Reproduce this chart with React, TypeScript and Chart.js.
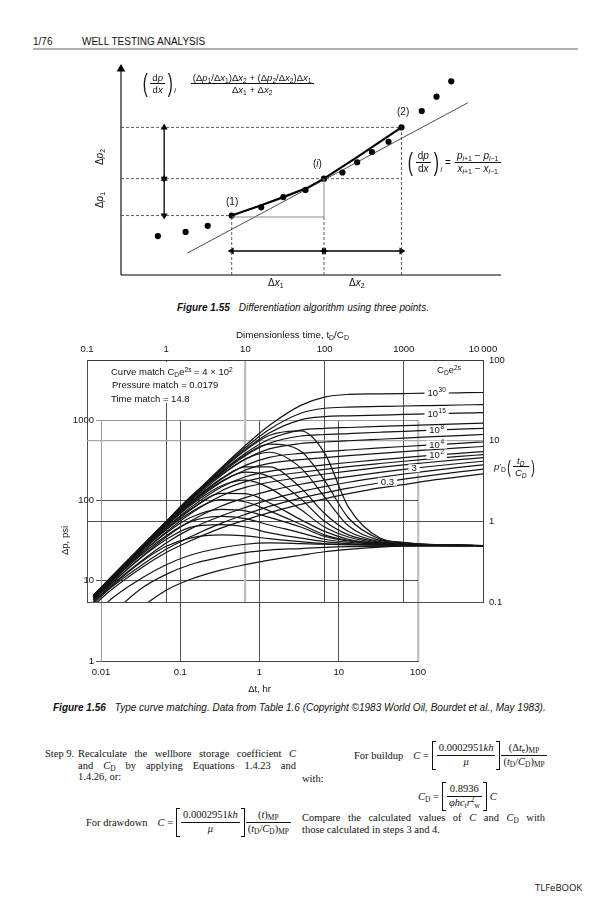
import React, { useEffect, useRef } from 'react';
import { Chart, registerables } from 'chart.js';

Chart.register(...registerables);

const SANS = '"Liberation Sans", Arial, Helvetica, sans-serif';
const SERIF = '"Liberation Serif", "Times New Roman", Times, serif';

/* ---------- Figure 1.55 (schematic, arbitrary units 0-100) ---------- */
const DOT_X = [10, 17.5, 23.5, 30, 38, 44, 50, 55, 60, 64, 68, 72.5, 76, 81.5, 85.5, 89.5];
const DOT_Y = [19, 21, 24, 29, 33, 38, 41.5, 47, 50, 55, 60, 65, 72, 80, 87, 94.5];
const CHORD_X = [30, 38, 44, 50.5, 55, 64, 76];
const CHORD_Y = [29, 34, 38, 42.5, 47, 57.5, 72];
const TREND_X = [18, 94];
const TREND_Y = [10.7, 84];
const KEY_X = [30, 55, 76]; // points (1), (i), (2)
const KEY_Y = [29, 47, 72];
const ARROW_ROW_Y = 11.7;
const ARROW_COL_X = 11.7;
const AXIS_X_END = 103;
const AXIS_Y_END = 100.5;

/* ---------- Figure 1.56 type curves ---------- */
const TIMES = [0.12, 0.2, 0.5, 1, 2, 5, 10, 20, 50, 100, 200, 500, 1000, 2000, 5000, 10000];
const TOP_TICKS = [0.1, 1, 10, 100, 1000, 10000];
const TOP_TICK_LABELS = ['0.1', '1', '10', '100', '1000', '10\u2009000'];
const RIGHT_TICKS = [0.1, 1, 10, 100];
const RIGHT_TICK_LABELS = ['0.1', '1', '10', '100'];
const DT_TICKS = [0.01, 0.1, 1, 10, 100];
const DT_TICK_LABELS = ['0.01', '0.1', '1', '10', '100'];
const DP_TICKS = [1, 10, 100, 1000];
const DP_TICK_LABELS = ['1', '10', '100', '1000'];

// pressure curves pD, CDe2s = 1e30 ... 0.1
const PD_1E30 = [0.12, 0.2, 0.496, 0.986, 1.945, 4.67, 8.73, 15.4, 27.4, 34.7, 37.4, 38.05, 38.4, 38.75, 39.2, 39.55];
const PD_1E20 = [0.12, 0.2, 0.495, 0.979, 1.919, 4.51, 8.21, 13.76, 21.85, 25.21, 26.08, 26.54, 26.89, 27.23, 27.69, 28.04];
const PD_1E15 = [0.12, 0.2, 0.494, 0.972, 1.893, 4.38, 7.76, 12.42, 18.09, 19.85, 20.33, 20.78, 21.13, 21.48, 21.94, 22.28];
const PD_1E10 = [0.12, 0.2, 0.489, 0.959, 1.845, 4.14, 6.99, 10.4, 13.5, 14.21, 14.57, 15.03, 15.37, 15.72, 16.18, 16.53];
const PD_1E8 = [0.12, 0.2, 0.487, 0.95, 1.81, 3.97, 6.52, 9.28, 11.42, 11.92, 12.26, 12.72, 13.07, 13.41, 13.87, 14.22];
const PD_1E6 = [0.119, 0.197, 0.482, 0.935, 1.76, 3.73, 5.87, 7.9, 9.23, 9.62, 9.97, 10.42, 10.77, 11.12, 11.58, 11.92];
const PD_1E4 = [0.118, 0.195, 0.474, 0.907, 1.67, 3.35, 4.94, 6.21, 6.96, 7.32, 7.66, 8.12, 8.47, 8.81, 9.27, 9.62];
const PD_1E3 = [0.117, 0.194, 0.466, 0.88, 1.59, 3.07, 4.33, 5.23, 5.81, 6.16, 6.51, 6.97, 7.32, 7.66, 8.12, 8.47];
const PD_1E2 = [0.116, 0.19, 0.45, 0.836, 1.468, 2.67, 3.57, 4.17, 4.66, 5.01, 5.36, 5.82, 6.16, 6.51, 6.97, 7.31];
const PD_30 = [0.113, 0.185, 0.435, 0.796, 1.367, 2.39, 3.1, 3.59, 4.06, 4.41, 4.76, 5.21, 5.56, 5.91, 6.37, 6.71];
const PD_10 = [0.107, 0.176, 0.409, 0.737, 1.237, 2.08, 2.64, 3.05, 3.51, 3.86, 4.2, 4.66, 5.01, 5.36, 5.82, 6.16];
const PD_3 = [0.105, 0.168, 0.37, 0.64, 1.0, 1.55, 1.97, 2.38, 2.88, 3.24, 3.59, 4.05, 4.4, 4.75, 5.21, 5.56];
const PD_1 = [0.1, 0.16, 0.33, 0.54, 0.8, 1.17, 1.49, 1.86, 2.34, 2.7, 3.05, 3.51, 3.86, 4.2, 4.66, 5.01];
const PD_03 = [0.095, 0.15, 0.29, 0.45, 0.64, 0.95, 1.22, 1.53, 1.94, 2.25, 2.58, 3.0, 3.33, 3.66, 4.1, 4.43];
const PD_01 = [0.09, 0.14, 0.27, 0.41, 0.57, 0.83, 1.04, 1.28, 1.62, 1.9, 2.2, 2.6, 2.85, 3.18, 3.55, 3.88];

// derivative curves pD'(tD/CD)
const DER_1E30 = [0.12, 0.2, 0.5, 1.0, 1.99, 4.35, 7.6, 11.6, 13.2, 7.0, 1.5, 0.62, 0.55, 0.52, 0.51, 0.5];
const DER_1E20 = [0.12, 0.2, 0.5, 0.99, 1.98, 4.08, 6.7, 9.06, 7.4, 3.2, 1.1, 0.6, 0.54, 0.52, 0.51, 0.5];
const DER_1E15 = [0.12, 0.2, 0.5, 0.99, 1.96, 3.83, 5.93, 7.18, 4.6, 2.0, 0.88, 0.58, 0.53, 0.51, 0.505, 0.5];
const DER_1E10 = [0.12, 0.2, 0.49, 0.92, 1.7, 3.41, 4.74, 4.73, 2.6, 1.25, 0.75, 0.56, 0.52, 0.51, 0.505, 0.5];
const DER_1E8 = [0.12, 0.2, 0.49, 0.904, 1.645, 3.14, 4.07, 3.6, 1.9, 1.0, 0.68, 0.55, 0.52, 0.51, 0.505, 0.5];
const DER_1E6 = [0.119, 0.197, 0.467, 0.876, 1.555, 2.76, 3.24, 2.6, 1.4, 0.85, 0.64, 0.54, 0.52, 0.51, 0.505, 0.5];
const DER_1E4 = [0.117, 0.191, 0.452, 0.828, 1.4, 2.22, 2.21, 1.7, 1.05, 0.75, 0.6, 0.53, 0.515, 0.505, 0.5, 0.5];
const DER_1E3 = [0.115, 0.188, 0.438, 0.786, 1.28, 1.86, 1.75, 1.35, 0.92, 0.68, 0.58, 0.53, 0.51, 0.505, 0.5, 0.5];
const DER_1E2 = [0.113, 0.183, 0.414, 0.718, 1.11, 1.41, 1.35, 1.12, 0.85, 0.65, 0.57, 0.52, 0.51, 0.505, 0.5, 0.5];
const DER_30 = [0.11, 0.177, 0.393, 0.663, 0.983, 1.15, 1.08, 0.9, 0.72, 0.6, 0.55, 0.52, 0.51, 0.5, 0.5, 0.5];
const DER_10 = [0.107, 0.168, 0.363, 0.594, 0.84, 0.91, 0.85, 0.72, 0.62, 0.56, 0.53, 0.51, 0.5, 0.5, 0.5, 0.5];
const DER_3 = [0.1, 0.155, 0.32, 0.49, 0.62, 0.68, 0.66, 0.61, 0.56, 0.53, 0.52, 0.51, 0.5, 0.5, 0.5, 0.5];
const DER_1 = [0.065, 0.108, 0.2, 0.29, 0.38, 0.47, 0.52, 0.54, 0.53, 0.52, 0.51, 0.505, 0.5, 0.5, 0.5, 0.5];
const DER_03 = [0.045, 0.07, 0.15, 0.22, 0.29, 0.36, 0.41, 0.44, 0.46, 0.475, 0.485, 0.49, 0.495, 0.5, 0.5, 0.5];
const DER_01 = [0.03, 0.045, 0.088, 0.14, 0.19, 0.25, 0.29, 0.33, 0.38, 0.42, 0.45, 0.48, 0.495, 0.5, 0.5, 0.5];

const PD_CURVES = [PD_1E30, PD_1E20, PD_1E15, PD_1E10, PD_1E8, PD_1E6, PD_1E4, PD_1E3, PD_1E2, PD_30, PD_10, PD_3, PD_1, PD_03, PD_01];
const DER_CURVES = [DER_1E30, DER_1E20, DER_1E15, DER_1E10, DER_1E8, DER_1E6, DER_1E4, DER_1E3, DER_1E2, DER_30, DER_10, DER_3, DER_1, DER_03, DER_01];

const CURVE_LABELS = [
  { curve: 0, t: 2600, base: '10', sup: '30' },
  { curve: 2, t: 2600, base: '10', sup: '15' },
  { curve: 4, t: 2600, base: '10', sup: '8' },
  { curve: 6, t: 2600, base: '10', sup: '4' },
  { curve: 8, t: 2600, base: '10', sup: '2' },
  { curve: 11, t: 1350, base: '3', sup: '' },
  { curve: 13, t: 620, base: '0.3', sup: '' },
];

function valueAt(vals: number[], t: number) {
  for (let i = 0; i < TIMES.length - 1; i++) {
    if (t >= TIMES[i] && t <= TIMES[i + 1]) {
      const f = Math.log(t / TIMES[i]) / Math.log(TIMES[i + 1] / TIMES[i]);
      return Math.exp(Math.log(vals[i]) + f * Math.log(vals[i + 1] / vals[i]));
    }
  }
  return vals[vals.length - 1];
}

const curveLabelPlugin = {
  id: 'curveLabels',
  afterDatasetsDraw(chart: any) {
    const { ctx } = chart;
    const xs = chart.scales.x;
    const ys = chart.scales.y;
    ctx.save();
    for (const lab of CURVE_LABELS) {
      const p = valueAt(PD_CURVES[lab.curve], lab.t);
      const px = xs.getPixelForValue(lab.t);
      const py = ys.getPixelForValue(p);
      ctx.font = `9.5px ${SANS}`;
      const wb = ctx.measureText(lab.base).width;
      ctx.font = `6.5px ${SANS}`;
      const ws = lab.sup ? ctx.measureText(lab.sup).width + 0.5 : 0;
      const w = wb + ws;
      ctx.fillStyle = '#fff';
      ctx.fillRect(px - w / 2 - 3, py - 4, w + 6, 8);
      ctx.fillStyle = '#111';
      ctx.textBaseline = 'middle';
      ctx.textAlign = 'left';
      ctx.font = `9.5px ${SANS}`;
      ctx.fillText(lab.base, px - w / 2, py + 0.5);
      if (lab.sup) {
        ctx.font = `6.5px ${SANS}`;
        ctx.fillText(lab.sup, px - w / 2 + wb + 0.5, py - 2.5);
      }
    }
    ctx.restore();
  },
};

const pts = (xs: number[], ys: number[]) => xs.map((x, i) => ({ x, y: ys[i] }));

function figConfig(): any {
  const dashed = (data: any[]) => ({ data, showLine: true, borderColor: '#333', borderWidth: 0.8, borderDash: [3, 2], pointRadius: 0, clip: false });
  const arrow = (x1: number, y1: number, x2: number, y2: number, r1: number, r2: number, h1: boolean, h2: boolean, size = 4, w = 1.3) => ({
    data: [{ x: x1, y: y1 }, { x: x2, y: y2 }],
    showLine: true,
    borderColor: '#000',
    borderWidth: w,
    pointStyle: 'triangle',
    pointRadius: [h1 ? size : 0, h2 ? size : 0],
    pointRotation: [r1, r2],
    pointBackgroundColor: '#000',
    pointBorderColor: '#000',
    pointBorderWidth: 0,
    clip: false,
  });
  const datasets = [
    dashed([{ x: 0, y: KEY_Y[0] }, { x: KEY_X[0], y: KEY_Y[0] }]),
    dashed([{ x: 0, y: KEY_Y[1] }, { x: KEY_X[2], y: KEY_Y[1] }]),
    dashed([{ x: 0, y: KEY_Y[2] }, { x: KEY_X[2], y: KEY_Y[2] }]),
    dashed([{ x: KEY_X[0], y: 0 }, { x: KEY_X[0], y: KEY_Y[0] }]),
    dashed([{ x: KEY_X[1], y: 0 }, { x: KEY_X[1], y: KEY_Y[0] }]),
    dashed([{ x: KEY_X[2], y: 0 }, { x: KEY_X[2], y: KEY_Y[2] }]),
    { data: [{ x: KEY_X[0], y: KEY_Y[0] - 0.7 }, { x: KEY_X[1], y: KEY_Y[0] - 0.7 }, { x: KEY_X[1], y: KEY_Y[1] }], showLine: true, borderColor: '#8a8a8a', borderWidth: 1, pointRadius: 0 },
    { data: pts(TREND_X, TREND_Y), showLine: true, borderColor: '#222', borderWidth: 0.8, pointRadius: 0 },
    { data: pts(CHORD_X, CHORD_Y), showLine: true, borderColor: '#000', borderWidth: 2.2, pointRadius: 0 },
    { data: pts(DOT_X, DOT_Y), showLine: false, pointRadius: 3.1, pointBackgroundColor: '#000', pointBorderWidth: 0 },
    arrow(0, 0, 0, AXIS_Y_END, 0, 0, false, true, 5, 1.1),
    arrow(0, 0, AXIS_X_END, 0, 0, 90, false, true, 5, 1.1),
    arrow(ARROW_COL_X, KEY_Y[2], ARROW_COL_X, KEY_Y[1], 0, 180, true, true),
    arrow(ARROW_COL_X, KEY_Y[1], ARROW_COL_X, KEY_Y[0], 0, 180, true, true),
    arrow(KEY_X[0], ARROW_ROW_Y, KEY_X[1], ARROW_ROW_Y, 270, 90, true, true),
    arrow(KEY_X[1], ARROW_ROW_Y, KEY_X[2], ARROW_ROW_Y, 270, 90, true, true),
  ];
  return {
    type: 'scatter',
    data: { datasets },
    options: {
      animation: false,
      responsive: false,
      devicePixelRatio: 1,
      events: [],
      layout: { padding: { left: 121, right: 114, top: 10, bottom: 25 } },
      plugins: { legend: { display: false }, tooltip: { enabled: false } },
      scales: {
        x: { type: 'linear', min: 0, max: 100, display: false },
        y: { type: 'linear', min: 0, max: 100, display: false },
      },
    },
  };
}

const tickFont = { family: SANS, size: 9.5 };

function dimConfig(): any {
  const mk = (vals: number[]) => ({
    data: TIMES.map((t, i) => ({ x: t, y: vals[i] })),
    borderColor: '#141414',
    borderWidth: 1.2,
    pointRadius: 0,
    cubicInterpolationMode: 'monotone',
    fill: false,
  });
  return {
    type: 'line',
    data: { datasets: [...PD_CURVES.map(mk), ...DER_CURVES.map(mk)] },
    options: {
      animation: false,
      responsive: false,
      devicePixelRatio: 1,
      events: [],
      layout: { padding: { left: 87, right: 0, top: 0, bottom: 13 } },
      plugins: { legend: { display: false }, tooltip: { enabled: false } },
      scales: {
        x: {
          type: 'logarithmic',
          position: 'top',
          min: 0.1,
          max: 10000,
          afterBuildTicks: (s: any) => { s.ticks = TOP_TICKS.map((v) => ({ value: v })); },
          afterFit: (s: any) => { s.height = 35; },
          ticks: { autoSkip: false, maxRotation: 0, padding: 5, color: '#111', font: tickFont, callback: (v: number) => TOP_TICK_LABELS[TOP_TICKS.indexOf(v)] ?? '' },
          grid: {
            drawTicks: false,
            color: (c: any) => (c.tick && c.tick.value === 10 ? '#bdbdbd' : '#3a3a3a'),
            lineWidth: (c: any) => (c.tick && c.tick.value === 10 ? 2.2 : 0.9),
          },
          border: { display: true, color: '#3a3a3a', width: 0.9 },
        },
        y: {
          type: 'logarithmic',
          position: 'right',
          min: 0.1,
          max: 100,
          afterBuildTicks: (s: any) => { s.ticks = RIGHT_TICKS.map((v) => ({ value: v })); },
          afterFit: (s: any) => { s.width = 121; },
          ticks: { autoSkip: false, padding: 6, color: '#111', font: tickFont, callback: (v: number) => RIGHT_TICK_LABELS[RIGHT_TICKS.indexOf(v)] ?? '' },
          grid: {
            drawTicks: false,
            color: (c: any) => (c.tick && c.tick.value === 10 ? '#a8a8a8' : '#3a3a3a'),
            lineWidth: (c: any) => (c.tick && c.tick.value === 10 ? 1.3 : 0.9),
          },
          border: { display: true, color: '#3a3a3a', width: 0.9 },
        },
      },
    },
    plugins: [curveLabelPlugin],
  };
}

function fieldConfig(): any {
  return {
    type: 'line',
    data: { datasets: [] },
    options: {
      animation: false,
      responsive: false,
      devicePixelRatio: 1,
      events: [],
      layout: { padding: { left: 0, right: 186, top: 20, bottom: 0 } },
      plugins: { legend: { display: false }, tooltip: { enabled: false } },
      scales: {
        x: {
          type: 'logarithmic',
          position: 'bottom',
          min: 0.01,
          max: 100,
          afterBuildTicks: (s: any) => { s.ticks = DT_TICKS.map((v) => ({ value: v })); },
          afterFit: (s: any) => { s.height = 39; },
          ticks: { autoSkip: false, maxRotation: 0, padding: 6, color: '#111', font: tickFont, callback: (v: number) => DT_TICK_LABELS[DT_TICKS.indexOf(v)] ?? '' },
          grid: {
            drawTicks: false,
            color: (c: any) => (!c.tick ? '#404040' : c.tick.value === 100 ? '#c4c4c4' : c.tick.value === 0.01 ? '#9a9a9a' : '#404040'),
            lineWidth: (c: any) => (c.tick && c.tick.value === 100 ? 2.4 : 0.9),
          },
          border: { display: true, color: '#404040', width: 0.9 },
          title: { display: true, text: 'Δt, hr', color: '#111', font: tickFont, padding: { top: 0, bottom: 5 } },
        },
        y: {
          type: 'logarithmic',
          position: 'left',
          min: 1,
          max: 1000,
          afterBuildTicks: (s: any) => { s.ticks = DP_TICKS.map((v) => ({ value: v })); },
          afterFit: (s: any) => { s.width = 101; },
          ticks: { autoSkip: false, padding: 2, color: '#111', font: tickFont, callback: (v: number) => DP_TICK_LABELS[DP_TICKS.indexOf(v)] ?? '' },
          grid: {
            drawTicks: true,
            tickLength: 5,
            color: (c: any) => (c.tick && c.tick.value === 1000 ? '#8c8c8c' : '#404040'),
            lineWidth: 0.9,
          },
          border: { display: true, color: '#9a9a9a', width: 0.9 },
          title: { display: true, text: 'Δp, psi', color: '#111', font: tickFont, padding: { top: 60, bottom: 0 } },
        },
      },
    },
  };
}

/* ---------- small typographic helpers ---------- */
const Sub = ({ children }: any) => <sub style={{ fontSize: '0.7em', verticalAlign: '-0.3em', lineHeight: 0 }}>{children}</sub>;
const Sup = ({ children }: any) => <sup style={{ fontSize: '0.7em', verticalAlign: '0.5em', lineHeight: 0 }}>{children}</sup>;
const Frac = ({ num, den }: any) => (
  <span style={{ display: 'inline-flex', flexDirection: 'column', alignItems: 'stretch', verticalAlign: 'middle', textAlign: 'center', margin: '0 1px' }}>
    <span style={{ padding: '0 2px', lineHeight: 1.2, whiteSpace: 'nowrap' }}>{num}</span>
    <span style={{ borderTop: '0.8px solid #111', padding: '0 2px', lineHeight: 1.2, whiteSpace: 'nowrap' }}>{den}</span>
  </span>
);
const Paren = ({ ch, size }: any) => (
  <span style={{ fontSize: size, lineHeight: 1, display: 'inline-block', transform: 'scaleX(0.6)', fontWeight: 300 }}>{ch}</span>
);
const Bracket = ({ children, h = 26 }: any) => (
  <span style={{ display: 'inline-flex', alignItems: 'center', verticalAlign: 'middle' }}>
    <span style={{ width: 3, height: h, borderLeft: '1px solid #111', borderTop: '1px solid #111', borderBottom: '1px solid #111' }} />
    {children}
    <span style={{ width: 3, height: h, borderRight: '1px solid #111', borderTop: '1px solid #111', borderBottom: '1px solid #111' }} />
  </span>
);
const T = ({ x, y, children, style }: any) => (
  <div style={{ position: 'absolute', left: x, top: y, whiteSpace: 'nowrap', ...style }}>{children}</div>
);
const I = ({ children }: any) => <i>{children}</i>;

export default function App() {
  const figRef = useRef<HTMLCanvasElement>(null);
  const dimRef = useRef<HTMLCanvasElement>(null);
  const fieldRef = useRef<HTMLCanvasElement>(null);

  useEffect(() => {
    const charts: Chart[] = [];
    if (figRef.current) charts.push(new Chart(figRef.current, figConfig()));
    if (fieldRef.current) charts.push(new Chart(fieldRef.current, fieldConfig()));
    if (dimRef.current) charts.push(new Chart(dimRef.current, dimConfig()));
    return () => charts.forEach((c) => c.destroy());
  }, []);

  const sans9 = { fontFamily: SANS, fontSize: 9.5, lineHeight: '11px', color: '#111' };
  const sans10 = { fontFamily: SANS, fontSize: 10, lineHeight: '11px', color: '#111' };
  const serif = { fontFamily: SERIF, fontSize: 10.5, lineHeight: '11.7px', color: '#111' };

  return (
    <div style={{ position: 'absolute', left: 0, top: 0, width: 604, height: 900, background: '#fff', overflow: 'hidden' }}>
      {/* header */}
      <T x={33} y={36} style={sans10}>1/76</T>
      <T x={82} y={36} style={sans10}>WELL TESTING ANALYSIS</T>
      <div style={{ position: 'absolute', left: 33, top: 48, width: 545, height: 2, background: '#b0b0b0' }} />

      {/* Figure 1.55 */}
      <canvas ref={figRef} width={604} height={240} style={{ position: 'absolute', left: 0, top: 60, width: 604, height: 240 }} />
      <T x={141} y={71} style={{ ...sans9, fontSize: 9.5, display: 'flex', alignItems: 'center' }}>
        <Paren ch="(" size={25} />
        <Frac num={<>d<I>p</I></>} den={<>d<I>x</I></>} />
        <Paren ch=")" size={25} />
        <span style={{ fontSize: 7, marginTop: 14 }}><I>i</I></span>
        <span style={{ width: 14 }} />
        <Frac
          num={<>(Δ<I>p</I><Sub>1</Sub>/Δ<I>x</I><Sub>1</Sub>)Δ<I>x</I><Sub>2</Sub> + (Δ<I>p</I><Sub>2</Sub>/Δ<I>x</I><Sub>2</Sub>)Δ<I>x</I><Sub>1</Sub></>}
          den={<>Δ<I>x</I><Sub>1</Sub> + Δ<I>x</I><Sub>2</Sub></>}
        />
      </T>
      <T x={406} y={149} style={{ ...sans9, fontSize: 10, display: 'flex', alignItems: 'center' }}>
        <Paren ch="(" size={26} />
        <Frac num={<>d<I>p</I></>} den={<>d<I>x</I></>} />
        <Paren ch=")" size={26} />
        <span style={{ fontSize: 7, marginTop: 14 }}><I>i</I></span>
        <span style={{ margin: '0 3px' }}>=</span>
        <Frac num={<><I>p</I><Sub><I>i</I>+1</Sub> − <I>p</I><Sub><I>i</I>−1</Sub></>} den={<><I>x</I><Sub><I>i</I>+1</Sub> − <I>x</I><Sub><I>i</I>−1</Sub></>} />
      </T>
      <T x={226} y={196} style={sans10}>(1)</T>
      <T x={313} y={158} style={sans10}>(<I>i</I>)</T>
      <T x={397} y={106} style={sans10}>(2)</T>
      <T x={268} y={277} style={sans10}>Δ<I>x</I><Sub>1</Sub></T>
      <T x={349} y={277} style={sans10}>Δ<I>x</I><Sub>2</Sub></T>
      <T x={99} y={157} style={{ ...sans10, transform: 'translate(-50%, -50%) rotate(-90deg)' }}>Δ<I>p</I><Sub>2</Sub></T>
      <T x={99} y={200} style={{ ...sans10, transform: 'translate(-50%, -50%) rotate(-90deg)' }}>Δ<I>p</I><Sub>1</Sub></T>
      <T x={177} y={302} style={sans10}>
        <b><i>Figure 1.55</i></b>
        <span style={{ marginLeft: 9 }}><i>Differentiation algorithm using three points.</i></span>
      </T>

      {/* Figure 1.56 */}
      <canvas ref={fieldRef} width={604} height={300} style={{ position: 'absolute', left: 0, top: 400, width: 604, height: 300 }} />
      <canvas ref={dimRef} width={604} height={290} style={{ position: 'absolute', left: 0, top: 325, width: 604, height: 290 }} />
      <div style={{ position: 'absolute', left: 95, top: 362, width: 147, height: 41, background: '#fff' }} />
      <T x={236} y={329} style={{ ...sans9, fontSize: 9.8 }}>Dimensionless time, t<Sub>D</Sub>/C<Sub>D</Sub></T>
      <T x={111} y={366} style={sans9}>Curve match C<Sub>D</Sub>e<Sup>2s</Sup> = 4 × 10<Sup>2</Sup></T>
      <T x={112} y={379} style={sans9}>Pressure match = 0.0179</T>
      <T x={111} y={393} style={sans9}>Time match = 14.8</T>
      <T x={437} y={364} style={sans9}>C<Sub>D</Sub>e<Sup>2s</Sup></T>
      <T x={494} y={455} style={{ ...sans9, display: 'flex', alignItems: 'center' }}>
        <span><I>p</I>′<Sub>D</Sub></span>
        <Paren ch="(" size={18} />
        <Frac num={<I>t<Sub>D</Sub></I>} den={<I>C<Sub>D</Sub></I>} />
        <Paren ch=")" size={18} />
      </T>
      <T x={53} y={702} style={sans10}>
        <b><i>Figure 1.56</i></b>
        <span style={{ marginLeft: 9 }}><i>Type curve matching. Data from Table 1.6 (Copyright ©1983 World Oil, Bourdet et al., May 1983).</i></span>
      </T>

      {/* body text, left column */}
      <T x={45} y={748} style={serif}>Step 9.</T>
      <div style={{ position: 'absolute', left: 78, top: 748, width: 218, ...serif }}>
        <div style={{ textAlign: 'justify', textAlignLast: 'justify' }}>Recalculate the wellbore storage coefficient <I>C</I></div>
        <div style={{ textAlign: 'justify', textAlignLast: 'justify' }}>and <I>C</I><Sub>D</Sub> by applying Equations 1.4.23 and</div>
        <div>1.4.26, or:</div>
      </div>
      <T x={86} y={808} style={{ ...serif, display: 'flex', alignItems: 'center' }}>
        <span>For drawdown</span>
        <span style={{ marginLeft: 10, marginRight: 3 }}><I>C</I> =</span>
        <Bracket h={27}>
          <Frac num={<>0.0002951<I>kh</I></>} den={<I>μ</I>} />
        </Bracket>
        <Frac num={<>(<I>t</I>)<Sub>MP</Sub></>} den={<>(<I>t</I><Sub>D</Sub>/<I>C</I><Sub>D</Sub>)<Sub>MP</Sub></>} />
      </T>

      {/* body text, right column */}
      <T x={354} y={741} style={{ ...serif, display: 'flex', alignItems: 'center' }}>
        <span>For buildup</span>
        <span style={{ marginLeft: 10, marginRight: 3 }}><I>C</I> =</span>
        <Bracket h={27}>
          <Frac num={<>0.0002951<I>kh</I></>} den={<I>μ</I>} />
        </Bracket>
        <Frac num={<>(Δ<I>t</I><Sub>e</Sub>)<Sub>MP</Sub></>} den={<>(<I>t</I><Sub>D</Sub>/<I>C</I><Sub>D</Sub>)<Sub>MP</Sub></>} />
      </T>
      <T x={302} y={773} style={serif}>with:</T>
      <T x={418} y={782} style={{ ...serif, display: 'flex', alignItems: 'center' }}>
        <span style={{ marginRight: 3 }}><I>C</I><Sub>D</Sub> =</span>
        <Bracket h={27}>
          <Frac num={<>0.8936</>} den={<><I>φhc</I><Sub>t</Sub><I>r</I><Sup>2</Sup><Sub>w</Sub></>} />
        </Bracket>
        <span style={{ marginLeft: 3 }}><I>C</I></span>
      </T>
      <div style={{ position: 'absolute', left: 302, top: 812, width: 243, ...serif }}>
        <div style={{ textAlign: 'justify', textAlignLast: 'justify' }}>Compare the calculated values of <I>C</I> and <I>C</I><Sub>D</Sub> with</div>
        <div>those calculated in steps 3 and 4.</div>
      </div>

      <T x={535} y={882} style={{ fontFamily: '"Open Sans", "Liberation Sans", sans-serif', fontSize: 9.5, lineHeight: '11px', color: '#111' }}>TLFeBOOK</T>
    </div>
  );
}
